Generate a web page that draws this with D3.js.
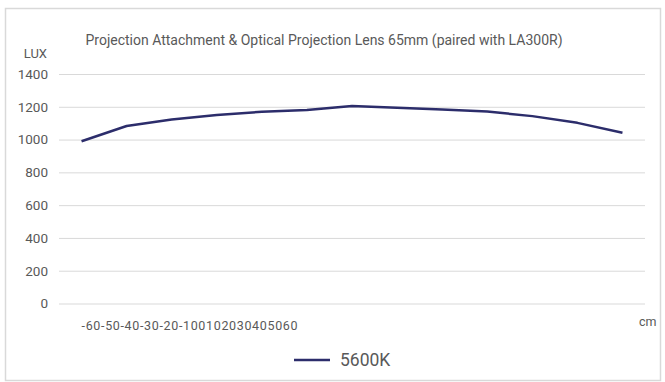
<!DOCTYPE html>
<html>
<head>
<meta charset="utf-8">
<script src="https://cdn.jsdelivr.net/npm/d3@7"></script>
<style>
  html, body { margin: 0; padding: 0; background: #fff; }
  text { font-family: Roboto, "Liberation Sans", sans-serif; fill: #595959; }
</style>
</head>
<body>
<div id="chart"></div>
<script>
'use strict';

var categories = ['-60', '-50', '-40', '-30', '-20', '-10', '0', '10', '20', '30', '40', '50', '60'];
var lux5600 = [990, 1083, 1123, 1150, 1170, 1181, 1205, 1194, 1184, 1171, 1143, 1102, 1042];
var yTicks = [0, 200, 400, 600, 800, 1000, 1200, 1400];
var seriesName = '5600K';
var title = 'Projection Attachment & Optical Projection Lens 65mm (paired with LA300R)';

var W = 665, H = 382;
var plot = {left: 59, right: 645, top: 74, bottom: 303.5};

var svg = d3.select('#chart').append('svg')
  .attr('width', W).attr('height', H);

// outer frame
svg.append('rect')
  .attr('x', 5.5).attr('y', 8.5)
  .attr('width', 655).attr('height', 372)
  .attr('fill', '#fff')
  .attr('stroke', '#d9d9d9').attr('stroke-width', 1.5);

var x = d3.scaleBand().domain(categories).range([plot.left, plot.right]);
var y = d3.scaleLinear().domain([0, 1400]).range([plot.bottom, plot.top]);

// gridlines + y labels
var yAxis = d3.axisLeft(y).tickValues(yTicks).tickFormat(d3.format('d'))
  .tickSize(-(plot.right - plot.left)).tickPadding(11);
var gy = svg.append('g').attr('transform', 'translate(' + plot.left + ',0)').call(yAxis);
gy.select('.domain').remove();
gy.selectAll('line').attr('stroke', '#d9d9d9').attr('stroke-width', 1);
gy.selectAll('text').style('font-size', '13.5px').attr('fill', '#595959');

// title
svg.append('text')
  .attr('x', 324).attr('y', 45)
  .attr('text-anchor', 'middle')
  .style('font-size', '14px')
  .text(title);

svg.append('text')
  .attr('x', 47).attr('y', 58)
  .attr('text-anchor', 'end')
  .style('font-size', '13px')
  .text('LUX');

// x labels are crammed together at the left, as in the source
svg.append('text')
  .attr('x', x(categories[0]) + x.bandwidth() / 2)
  .attr('y', 329.5)
  .attr('textLength', 216)
  .attr('lengthAdjust', 'spacing')
  .style('font-size', '12.5px')
  .text(categories.join(''));

svg.append('text')
  .attr('x', 639).attr('y', 325.5)
  .style('font-size', '12.5px')
  .text('cm');

// series line
var line = d3.line()
  .x(function (d, i) { return x(categories[i]) + x.bandwidth() / 2; })
  .y(function (d) { return y(d); });

svg.append('path')
  .datum(lux5600)
  .attr('d', line)
  .attr('fill', 'none')
  .attr('stroke', '#2c2d6b')
  .attr('stroke-width', 2.5)
  .attr('stroke-linejoin', 'round');

// legend
svg.append('line')
  .attr('x1', 294).attr('x2', 330)
  .attr('y1', 360).attr('y2', 360)
  .attr('stroke', '#2c2d6b').attr('stroke-width', 2.5);
svg.append('text')
  .attr('x', 340).attr('y', 366)
  .style('font-size', '17.5px')
  .text(seriesName);
</script>
</body>
</html>
